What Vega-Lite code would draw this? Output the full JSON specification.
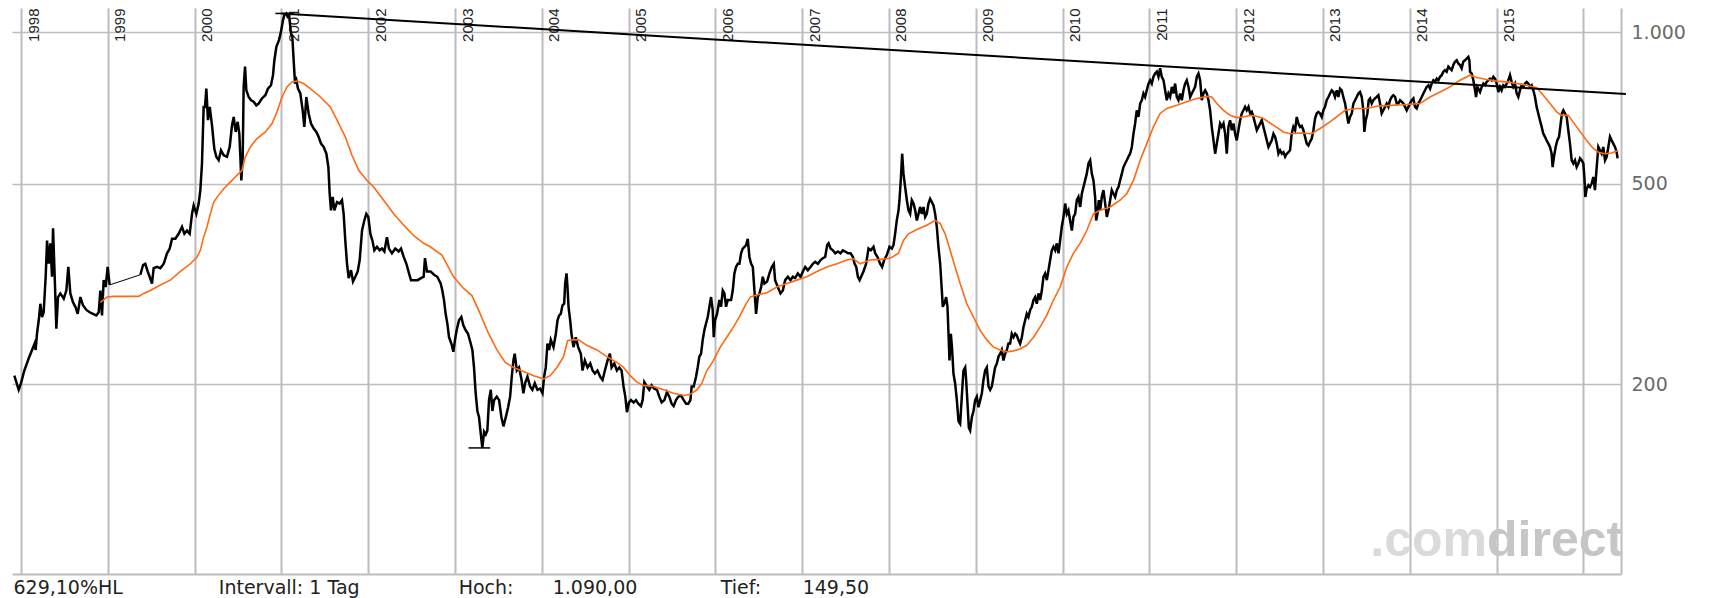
{
 "$schema": "https://vega.github.io/schema/vega-lite/v6.json",
 "width": 1609,
 "height": 566,
 "autosize": {"type": "none"},
 "padding": {"left": 12, "top": 8, "right": 100, "bottom": 24},
 "background": "white",
 "config": {"view": {"stroke": null}},
 "datasets": {
  "price": [
   {"t":1997.923,"v":208},{"t":1997.973,"v":195},{"t":1998.000,"v":201},{"t":1998.038,"v":213},{"t":1998.088,"v":225},{"t":1998.127,"v":234},{"t":1998.157,"v":241},{"t":1998.169,"v":234},{"t":1998.184,"v":252},{"t":1998.204,"v":268},{"t":1998.223,"v":289},{"t":1998.242,"v":272},{"t":1998.261,"v":278},{"t":1998.284,"v":327},{"t":1998.300,"v":386},{"t":1998.319,"v":347},{"t":1998.338,"v":381},{"t":1998.357,"v":327},{"t":1998.369,"v":408},{"t":1998.388,"v":327},{"t":1998.407,"v":258},{"t":1998.426,"v":298},{"t":1998.453,"v":303},{"t":1998.492,"v":296},{"t":1998.522,"v":307},{"t":1998.545,"v":342},{"t":1998.568,"v":303},{"t":1998.599,"v":291},{"t":1998.626,"v":285},{"t":1998.653,"v":276},{"t":1998.684,"v":298},{"t":1998.714,"v":287},{"t":1998.753,"v":281},{"t":1998.791,"v":278},{"t":1998.829,"v":276},{"t":1998.868,"v":274},{"t":1998.895,"v":278},{"t":1998.914,"v":307},{"t":1998.933,"v":274},{"t":1998.952,"v":322},{"t":1998.975,"v":312},{"t":1998.998,"v":342},{"t":1999.021,"v":315},
   {"t":1999.375,"v":330},{"t":1999.406,"v":345},{"t":1999.432,"v":347},{"t":1999.459,"v":335},{"t":1999.482,"v":327},{"t":1999.509,"v":317},{"t":1999.528,"v":340},{"t":1999.567,"v":342},{"t":1999.605,"v":340},{"t":1999.644,"v":347},{"t":1999.682,"v":364},{"t":1999.713,"v":372},{"t":1999.740,"v":389},{"t":1999.778,"v":389},{"t":1999.816,"v":398},{"t":1999.855,"v":411},{"t":1999.882,"v":398},{"t":1999.912,"v":404},{"t":1999.943,"v":398},{"t":1999.970,"v":436},{"t":1999.989,"v":453},{"t":2000.020,"v":436},{"t":2000.047,"v":457},{"t":2000.066,"v":486},{"t":2000.085,"v":549},{"t":2000.104,"v":711},{"t":2000.120,"v":711},{"t":2000.135,"v":773},{"t":2000.154,"v":669},{"t":2000.174,"v":711},{"t":2000.200,"v":654},{"t":2000.227,"v":587},{"t":2000.250,"v":566},{"t":2000.277,"v":557},{"t":2000.304,"v":583},{"t":2000.335,"v":570},{"t":2000.373,"v":566},{"t":2000.404,"v":592},{"t":2000.431,"v":654},{"t":2000.450,"v":679},{"t":2000.473,"v":634},{"t":2000.496,"v":664},{"t":2000.515,"v":629},{"t":2000.527,"v":566},{"t":2000.538,"v":508},{"t":2000.554,"v":566},{"t":2000.565,"v":779},{"t":2000.581,"v":855},{"t":2000.596,"v":767},{"t":2000.623,"v":744},{"t":2000.650,"v":733},{"t":2000.680,"v":728},{"t":2000.711,"v":716},{"t":2000.738,"v":722},{"t":2000.776,"v":739},{"t":2000.815,"v":750},{"t":2000.845,"v":773},{"t":2000.880,"v":785},{"t":2000.903,"v":822},{"t":2000.919,"v":880},{"t":2000.942,"v":936},{"t":2000.972,"v":965},{"t":2000.995,"v":1003},{"t":2001.018,"v":1057},{"t":2001.034,"v":1082},{"t":2001.057,"v":1090},{"t":2001.072,"v":1074},{"t":2001.088,"v":1082},{"t":2001.111,"v":995},{"t":2001.126,"v":980},{"t":2001.141,"v":880},{"t":2001.157,"v":791},{"t":2001.172,"v":803},{"t":2001.191,"v":773},{"t":2001.218,"v":756},{"t":2001.245,"v":700},{"t":2001.264,"v":649},{"t":2001.287,"v":744},{"t":2001.314,"v":690},{"t":2001.341,"v":659},{"t":2001.372,"v":644},{"t":2001.402,"v":634},{"t":2001.429,"v":620},{"t":2001.456,"v":601},{"t":2001.487,"v":592},{"t":2001.518,"v":574},{"t":2001.541,"v":540},{"t":2001.556,"v":478},{"t":2001.571,"v":443},{"t":2001.591,"v":471},{"t":2001.610,"v":443},{"t":2001.641,"v":460},{"t":2001.671,"v":457},{"t":2001.698,"v":464},{"t":2001.717,"v":436},{"t":2001.736,"v":386},{"t":2001.756,"v":347},{"t":2001.775,"v":325},{"t":2001.802,"v":337},{"t":2001.825,"v":320},{"t":2001.852,"v":327},{"t":2001.879,"v":335},{"t":2001.902,"v":353},{"t":2001.929,"v":404},{"t":2001.955,"v":423},{"t":2001.978,"v":436},{"t":2002.001,"v":430},{"t":2002.025,"v":398},{"t":2002.048,"v":386},{"t":2002.071,"v":369},{"t":2002.101,"v":375},{"t":2002.132,"v":369},{"t":2002.159,"v":372},{"t":2002.186,"v":367},{"t":2002.216,"v":392},{"t":2002.239,"v":372},{"t":2002.274,"v":364},{"t":2002.312,"v":372},{"t":2002.351,"v":367},{"t":2002.378,"v":372},{"t":2002.409,"v":358},{"t":2002.440,"v":347},{"t":2002.470,"v":332},{"t":2002.493,"v":322},{"t":2002.532,"v":322},{"t":2002.570,"v":322},{"t":2002.608,"v":325},{"t":2002.639,"v":327},{"t":2002.654,"v":356},{"t":2002.677,"v":335},
   {"t":2002.719,"v":335},{"t":2002.758,"v":330},{"t":2002.796,"v":327},{"t":2002.835,"v":317},{"t":2002.854,"v":307},{"t":2002.873,"v":294},{"t":2002.892,"v":276},{"t":2002.912,"v":264},{"t":2002.931,"v":248},{"t":2002.958,"v":241},{"t":2002.981,"v":232},{"t":2003.000,"v":245},{"t":2003.019,"v":256},{"t":2003.046,"v":268},{"t":2003.073,"v":272},{"t":2003.096,"v":262},{"t":2003.123,"v":256},{"t":2003.150,"v":252},{"t":2003.181,"v":241},{"t":2003.200,"v":234},{"t":2003.219,"v":216},{"t":2003.238,"v":192},{"t":2003.258,"v":177},{"t":2003.277,"v":172},{"t":2003.296,"v":160},{"t":2003.315,"v":149.5},{"t":2003.335,"v":161},{"t":2003.354,"v":159},{"t":2003.373,"v":162},{"t":2003.392,"v":186},{"t":2003.412,"v":195},{"t":2003.431,"v":177},{"t":2003.450,"v":186},{"t":2003.481,"v":189},{"t":2003.508,"v":186},{"t":2003.535,"v":172},{"t":2003.558,"v":165},{"t":2003.585,"v":172},{"t":2003.612,"v":180},{"t":2003.635,"v":189},{"t":2003.654,"v":207},{"t":2003.673,"v":223},{"t":2003.688,"v":230},{"t":2003.712,"v":213},{"t":2003.738,"v":216},{"t":2003.765,"v":205},{"t":2003.788,"v":192},{"t":2003.808,"v":201},{"t":2003.835,"v":207},{"t":2003.865,"v":198},{"t":2003.892,"v":195},{"t":2003.919,"v":201},{"t":2003.950,"v":195},{"t":2003.981,"v":196},{"t":2004.008,"v":192},{"t":2004.027,"v":207},{"t":2004.046,"v":216},{"t":2004.065,"v":241},{"t":2004.085,"v":234},{"t":2004.104,"v":245},{"t":2004.135,"v":237},{"t":2004.162,"v":252},{"t":2004.181,"v":268},{"t":2004.200,"v":274},{"t":2004.219,"v":276},{"t":2004.238,"v":287},{"t":2004.258,"v":289},{"t":2004.269,"v":317},{"t":2004.285,"v":332},{"t":2004.296,"v":312},{"t":2004.308,"v":285},{"t":2004.327,"v":268},{"t":2004.342,"v":252},{"t":2004.365,"v":237},{"t":2004.392,"v":248},{"t":2004.419,"v":237},{"t":2004.450,"v":230},{"t":2004.469,"v":213},{"t":2004.496,"v":223},{"t":2004.527,"v":216},{"t":2004.558,"v":220},{"t":2004.585,"v":213},{"t":2004.612,"v":210},{"t":2004.642,"v":213},{"t":2004.673,"v":207},{"t":2004.700,"v":204},{"t":2004.727,"v":213},{"t":2004.758,"v":223},{"t":2004.785,"v":230},{"t":2004.804,"v":216},{"t":2004.835,"v":220},{"t":2004.865,"v":213},{"t":2004.892,"v":216},{"t":2004.919,"v":213},{"t":2004.942,"v":198},{"t":2004.962,"v":189},{"t":2004.981,"v":176},{"t":2005.004,"v":184},{"t":2005.027,"v":186},{"t":2005.058,"v":184},{"t":2005.085,"v":186},{"t":2005.112,"v":183},{"t":2005.142,"v":181},{"t":2005.162,"v":186},{"t":2005.181,"v":202},{"t":2005.212,"v":198},{"t":2005.238,"v":195},{"t":2005.265,"v":199},{"t":2005.296,"v":196},{"t":2005.327,"v":195},{"t":2005.354,"v":189},{"t":2005.381,"v":184},{"t":2005.412,"v":186},{"t":2005.442,"v":193},{"t":2005.469,"v":189},{"t":2005.496,"v":183},{"t":2005.519,"v":181},{"t":2005.546,"v":186},{"t":2005.573,"v":189},{"t":2005.604,"v":190},{"t":2005.635,"v":186},{"t":2005.662,"v":183},{"t":2005.688,"v":183},{"t":2005.712,"v":186},{"t":2005.727,"v":198},{"t":2005.750,"v":198},{"t":2005.777,"v":207},{"t":2005.796,"v":216},{"t":2005.815,"v":227},{"t":2005.835,"v":230},{"t":2005.854,"v":245},{"t":2005.873,"v":256},{"t":2005.892,"v":264},{"t":2005.912,"v":272},{"t":2005.931,"v":285},{"t":2005.950,"v":298},{"t":2005.969,"v":281},{"t":2005.981,"v":248},{"t":2005.996,"v":268},{"t":2006.019,"v":276},{"t":2006.046,"v":294},{"t":2006.065,"v":285},{"t":2006.085,"v":307},{"t":2006.104,"v":303},{"t":2006.123,"v":285},{"t":2006.142,"v":294},{"t":2006.162,"v":294},{"t":2006.181,"v":294},{"t":2006.200,"v":307},{"t":2006.219,"v":332},{"t":2006.238,"v":342},{"t":2006.258,"v":347},{"t":2006.277,"v":347},{"t":2006.296,"v":364},{"t":2006.315,"v":372},{"t":2006.335,"v":375},{"t":2006.354,"v":378},{"t":2006.373,"v":389},{"t":2006.392,"v":358},{"t":2006.412,"v":347},{"t":2006.431,"v":342},{"t":2006.450,"v":307},{"t":2006.469,"v":276},{"t":2006.488,"v":298},{"t":2006.508,"v":303},{"t":2006.527,"v":312},{"t":2006.546,"v":327},{"t":2006.565,"v":317},{"t":2006.596,"v":320},{"t":2006.623,"v":332},{"t":2006.650,"v":342},{"t":2006.673,"v":347},{"t":2006.688,"v":322},{"t":2006.719,"v":312},{"t":2006.750,"v":303},{"t":2006.777,"v":307},{"t":2006.804,"v":322},{"t":2006.835,"v":327},{"t":2006.865,"v":322},{"t":2006.892,"v":327},{"t":2006.919,"v":325},{"t":2006.950,"v":332},{"t":2006.981,"v":327},{"t":2007.008,"v":335},{"t":2007.035,"v":342},{"t":2007.065,"v":337},{"t":2007.096,"v":342},{"t":2007.123,"v":347},{"t":2007.150,"v":350},{"t":2007.181,"v":347},{"t":2007.212,"v":353},{"t":2007.238,"v":356},{"t":2007.265,"v":358},{"t":2007.288,"v":378},{"t":2007.304,"v":381},{"t":2007.327,"v":372},{"t":2007.354,"v":369},{"t":2007.381,"v":364},{"t":2007.412,"v":367},{"t":2007.442,"v":364},{"t":2007.469,"v":369},{"t":2007.496,"v":367},{"t":2007.527,"v":364},{"t":2007.558,"v":364},{"t":2007.585,"v":358},{"t":2007.604,"v":347},{"t":2007.623,"v":342},{"t":2007.642,"v":327},{"t":2007.662,"v":322},
   {"t":2007.706,"v":335},{"t":2007.737,"v":347},{"t":2007.764,"v":372},{"t":2007.791,"v":369},{"t":2007.822,"v":375},{"t":2007.841,"v":364},{"t":2007.868,"v":358},{"t":2007.898,"v":347},{"t":2007.921,"v":342},{"t":2007.945,"v":353},{"t":2007.975,"v":361},{"t":2008.006,"v":375},{"t":2008.033,"v":372},{"t":2008.052,"v":378},{"t":2008.071,"v":398},{"t":2008.090,"v":423},{"t":2008.110,"v":443},{"t":2008.121,"v":464},{"t":2008.136,"v":508},{"t":2008.152,"v":574},{"t":2008.167,"v":524},{"t":2008.186,"v":493},{"t":2008.206,"v":464},{"t":2008.225,"v":443},{"t":2008.244,"v":436},{"t":2008.263,"v":464},{"t":2008.283,"v":457},{"t":2008.302,"v":443},{"t":2008.321,"v":423},{"t":2008.340,"v":436},{"t":2008.359,"v":450},{"t":2008.379,"v":436},{"t":2008.398,"v":450},{"t":2008.417,"v":430},{"t":2008.436,"v":436},{"t":2008.455,"v":457},{"t":2008.474,"v":467},{"t":2008.494,"v":460},{"t":2008.513,"v":453},{"t":2008.532,"v":436},{"t":2008.551,"v":411},{"t":2008.570,"v":375},{"t":2008.590,"v":347},{"t":2008.609,"v":307},{"t":2008.620,"v":285},{"t":2008.636,"v":289},{"t":2008.659,"v":298},{"t":2008.674,"v":285},{"t":2008.686,"v":252},{"t":2008.697,"v":223},{"t":2008.713,"v":252},{"t":2008.728,"v":234},{"t":2008.743,"v":210},{"t":2008.762,"v":201},{"t":2008.782,"v":186},{"t":2008.801,"v":169},{"t":2008.820,"v":167},{"t":2008.839,"v":189},{"t":2008.858,"v":213},{"t":2008.878,"v":216},{"t":2008.889,"v":204},{"t":2008.905,"v":183},{"t":2008.920,"v":164},{"t":2008.935,"v":162},{"t":2008.955,"v":172},{"t":2008.974,"v":177},{"t":2008.993,"v":186},{"t":2009.012,"v":189},{"t":2009.031,"v":180},{"t":2009.051,"v":186},{"t":2009.070,"v":192},{"t":2009.089,"v":204},{"t":2009.108,"v":213},{"t":2009.127,"v":216},{"t":2009.147,"v":198},{"t":2009.166,"v":195},{"t":2009.185,"v":198},{"t":2009.204,"v":207},{"t":2009.223,"v":216},{"t":2009.243,"v":220},{"t":2009.262,"v":227},{"t":2009.281,"v":230},{"t":2009.300,"v":234},{"t":2009.319,"v":223},{"t":2009.339,"v":230},{"t":2009.358,"v":234},{"t":2009.377,"v":241},{"t":2009.396,"v":241},{"t":2009.415,"v":252},{"t":2009.435,"v":248},{"t":2009.454,"v":252},{"t":2009.473,"v":250},{"t":2009.492,"v":245},{"t":2009.511,"v":241},{"t":2009.531,"v":248},{"t":2009.550,"v":260},{"t":2009.569,"v":268},{"t":2009.588,"v":276},{"t":2009.607,"v":272},{"t":2009.627,"v":281},{"t":2009.646,"v":285},{"t":2009.665,"v":294},{"t":2009.684,"v":298},{"t":2009.703,"v":289},{"t":2009.723,"v":303},{"t":2009.742,"v":294},{"t":2009.761,"v":307},{"t":2009.780,"v":327},{"t":2009.799,"v":332},{"t":2009.819,"v":322},{"t":2009.838,"v":337},{"t":2009.857,"v":353},{"t":2009.876,"v":369},{"t":2009.895,"v":375},{"t":2009.915,"v":369},{"t":2009.934,"v":381},{"t":2009.953,"v":364},{"t":2009.972,"v":386},{"t":2009.991,"v":411},{"t":2010.011,"v":430},{"t":2010.030,"v":457},{"t":2010.049,"v":436},{"t":2010.068,"v":443},{"t":2010.087,"v":423},{"t":2010.107,"v":404},{"t":2010.126,"v":430},{"t":2010.145,"v":436},{"t":2010.164,"v":464},{"t":2010.183,"v":471},{"t":2010.203,"v":450},{"t":2010.222,"v":478},{"t":2010.241,"v":493},{"t":2010.260,"v":508},{"t":2010.279,"v":524},{"t":2010.299,"v":549},{"t":2010.318,"v":557},{"t":2010.337,"v":524},{"t":2010.356,"v":508},{"t":2010.375,"v":471},{"t":2010.387,"v":423},{"t":2010.402,"v":436},{"t":2010.418,"v":464},{"t":2010.433,"v":443},{"t":2010.452,"v":471},{"t":2010.471,"v":486},{"t":2010.491,"v":457},{"t":2010.510,"v":430},{"t":2010.529,"v":443},{"t":2010.548,"v":464},{"t":2010.567,"v":486},{"t":2010.587,"v":478},{"t":2010.606,"v":471},{"t":2010.625,"v":486},{"t":2010.644,"v":493},{"t":2010.663,"v":508},{"t":2010.683,"v":524},{"t":2010.702,"v":540},{"t":2010.721,"v":549},{"t":2010.740,"v":557},{"t":2010.759,"v":566},{"t":2010.778,"v":574},{"t":2010.798,"v":592},{"t":2010.817,"v":629},{"t":2010.836,"v":659},{"t":2010.855,"v":700},{"t":2010.875,"v":679},{"t":2010.894,"v":722},{"t":2010.913,"v":733},{"t":2010.932,"v":756},{"t":2010.951,"v":744},{"t":2010.970,"v":767},{"t":2010.990,"v":791},{"t":2011.009,"v":803},{"t":2011.028,"v":791},{"t":2011.047,"v":816},{"t":2011.066,"v":828},{"t":2011.086,"v":835},{"t":2011.105,"v":816},{"t":2011.124,"v":848},{"t":2011.143,"v":816},{"t":2011.163,"v":803},{"t":2011.182,"v":767},{"t":2011.201,"v":733},{"t":2011.220,"v":756},{"t":2011.239,"v":744},{"t":2011.259,"v":779},{"t":2011.278,"v":756},{"t":2011.297,"v":791},{"t":2011.316,"v":744},{"t":2011.335,"v":733},{"t":2011.355,"v":756},{"t":2011.374,"v":733},{"t":2011.393,"v":767},{"t":2011.412,"v":791},{"t":2011.431,"v":803},{"t":2011.451,"v":779},{"t":2011.470,"v":744},{"t":2011.489,"v":756},{"t":2011.508,"v":767},{"t":2011.527,"v":779},{"t":2011.547,"v":816},{"t":2011.566,"v":828},{"t":2011.585,"v":803},{"t":2011.604,"v":733},{"t":2011.623,"v":756},{"t":2011.643,"v":767},{"t":2011.662,"v":756},{"t":2011.681,"v":733},{"t":2011.700,"v":700},{"t":2011.719,"v":649},{"t":2011.739,"v":610},{"t":2011.758,"v":574},{"t":2011.777,"v":601},{"t":2011.796,"v":629},{"t":2011.815,"v":659},{"t":2011.834,"v":649},{"t":2011.854,"v":659},{"t":2011.873,"v":629},{"t":2011.892,"v":574},{"t":2011.911,"v":649},{"t":2011.930,"v":669},{"t":2011.950,"v":639},{"t":2011.969,"v":659},{"t":2011.988,"v":629},{"t":2012.007,"v":610},{"t":2012.026,"v":639},{"t":2012.046,"v":669},{"t":2012.065,"v":690},{"t":2012.084,"v":700},{"t":2012.103,"v":711},{"t":2012.122,"v":700},{"t":2012.142,"v":711},{"t":2012.161,"v":690},{"t":2012.180,"v":695},{"t":2012.199,"v":679},{"t":2012.218,"v":659},{"t":2012.238,"v":639},{"t":2012.257,"v":649},{"t":2012.276,"v":659},{"t":2012.295,"v":669},{"t":2012.314,"v":649},{"t":2012.334,"v":629},{"t":2012.353,"v":610},{"t":2012.372,"v":592},{"t":2012.391,"v":601},{"t":2012.410,"v":610},{"t":2012.430,"v":629},{"t":2012.449,"v":620},{"t":2012.468,"v":601},{"t":2012.487,"v":574},{"t":2012.506,"v":583},{"t":2012.526,"v":574},{"t":2012.545,"v":578},{"t":2012.564,"v":566},{"t":2012.583,"v":574},{"t":2012.603,"v":578},
   {"t":2012.621,"v":583},{"t":2012.640,"v":629},{"t":2012.659,"v":649},{"t":2012.679,"v":639},{"t":2012.698,"v":679},{"t":2012.717,"v":659},{"t":2012.736,"v":649},{"t":2012.755,"v":652},{"t":2012.775,"v":639},{"t":2012.794,"v":620},{"t":2012.813,"v":601},{"t":2012.832,"v":596},{"t":2012.851,"v":606},{"t":2012.871,"v":615},{"t":2012.890,"v":639},{"t":2012.909,"v":674},{"t":2012.928,"v":690},{"t":2012.947,"v":695},{"t":2012.967,"v":690},{"t":2012.986,"v":679},{"t":2013.005,"v":700},{"t":2013.024,"v":711},{"t":2013.043,"v":733},{"t":2013.063,"v":744},{"t":2013.082,"v":756},{"t":2013.101,"v":767},{"t":2013.120,"v":761},{"t":2013.139,"v":744},{"t":2013.159,"v":767},{"t":2013.178,"v":744},{"t":2013.197,"v":773},{"t":2013.216,"v":767},{"t":2013.235,"v":744},{"t":2013.255,"v":722},{"t":2013.274,"v":690},{"t":2013.293,"v":659},{"t":2013.312,"v":679},{"t":2013.332,"v":690},{"t":2013.351,"v":722},{"t":2013.370,"v":733},{"t":2013.389,"v":744},{"t":2013.408,"v":756},{"t":2013.427,"v":761},{"t":2013.447,"v":744},{"t":2013.466,"v":700},{"t":2013.477,"v":634},{"t":2013.493,"v":669},{"t":2013.512,"v":690},{"t":2013.527,"v":733},{"t":2013.543,"v":739},{"t":2013.562,"v":722},{"t":2013.581,"v":733},{"t":2013.600,"v":739},{"t":2013.619,"v":744},{"t":2013.639,"v":750},{"t":2013.658,"v":722},{"t":2013.677,"v":690},{"t":2013.696,"v":700},{"t":2013.715,"v":711},{"t":2013.735,"v":722},{"t":2013.754,"v":711},{"t":2013.773,"v":733},{"t":2013.792,"v":744},{"t":2013.811,"v":750},{"t":2013.831,"v":744},{"t":2013.850,"v":722},{"t":2013.869,"v":722},{"t":2013.888,"v":733},{"t":2013.907,"v":728},{"t":2013.927,"v":722},{"t":2013.946,"v":711},{"t":2013.965,"v":700},{"t":2013.984,"v":711},{"t":2014.003,"v":722},{"t":2014.023,"v":733},{"t":2014.042,"v":739},{"t":2014.061,"v":711},{"t":2014.080,"v":706},{"t":2014.099,"v":722},{"t":2014.119,"v":733},{"t":2014.138,"v":744},{"t":2014.157,"v":756},{"t":2014.176,"v":767},{"t":2014.195,"v":779},{"t":2014.215,"v":785},{"t":2014.234,"v":773},{"t":2014.253,"v":791},{"t":2014.272,"v":803},{"t":2014.291,"v":797},{"t":2014.311,"v":809},{"t":2014.330,"v":803},{"t":2014.349,"v":816},{"t":2014.368,"v":822},{"t":2014.387,"v":835},{"t":2014.406,"v":841},{"t":2014.425,"v":835},{"t":2014.445,"v":855},{"t":2014.464,"v":848},{"t":2014.483,"v":841},{"t":2014.502,"v":861},{"t":2014.521,"v":874},{"t":2014.541,"v":880},{"t":2014.560,"v":867},{"t":2014.579,"v":861},{"t":2014.598,"v":848},{"t":2014.617,"v":874},{"t":2014.637,"v":880},{"t":2014.656,"v":887},{"t":2014.675,"v":894},{"t":2014.687,"v":880},{"t":2014.695,"v":835},{"t":2014.714,"v":828},{"t":2014.733,"v":803},{"t":2014.752,"v":767},{"t":2014.764,"v":744},{"t":2014.779,"v":779},{"t":2014.790,"v":773},{"t":2014.810,"v":761},{"t":2014.829,"v":779},{"t":2014.848,"v":791},{"t":2014.867,"v":785},{"t":2014.886,"v":797},{"t":2014.906,"v":803},{"t":2014.925,"v":809},{"t":2014.944,"v":803},{"t":2014.963,"v":816},{"t":2014.982,"v":809},{"t":2015.002,"v":791},{"t":2015.021,"v":761},{"t":2015.040,"v":779},{"t":2015.059,"v":767},{"t":2015.078,"v":785},{"t":2015.097,"v":779},{"t":2015.117,"v":791},{"t":2015.136,"v":803},{"t":2015.155,"v":822},{"t":2015.174,"v":797},{"t":2015.193,"v":779},{"t":2015.213,"v":791},{"t":2015.232,"v":756},{"t":2015.251,"v":744},{"t":2015.270,"v":767},{"t":2015.289,"v":785},{"t":2015.309,"v":779},{"t":2015.328,"v":791},{"t":2015.347,"v":797},{"t":2015.366,"v":791},{"t":2015.385,"v":779},{"t":2015.405,"v":785},{"t":2015.424,"v":767},{"t":2015.443,"v":744},{"t":2015.462,"v":711},{"t":2015.481,"v":690},{"t":2015.500,"v":669},{"t":2015.520,"v":649},{"t":2015.539,"v":629},{"t":2015.558,"v":620},{"t":2015.577,"v":610},{"t":2015.597,"v":601},{"t":2015.616,"v":592},{"t":2015.635,"v":574},{"t":2015.646,"v":540},{"t":2015.662,"v":566},{"t":2015.681,"v":592},{"t":2015.700,"v":610},{"t":2015.720,"v":620},{"t":2015.739,"v":659},{"t":2015.754,"v":690},{"t":2015.770,"v":700},{"t":2015.789,"v":690},{"t":2015.808,"v":679},{"t":2015.827,"v":639},{"t":2015.846,"v":601},{"t":2015.866,"v":557},{"t":2015.885,"v":549},{"t":2015.904,"v":557},{"t":2015.923,"v":540},{"t":2015.942,"v":549},{"t":2015.962,"v":562},{"t":2015.981,"v":557},{"t":2016.000,"v":549},{"t":2016.012,"v":516},{"t":2016.023,"v":471},{"t":2016.038,"v":489},{"t":2016.058,"v":497},{"t":2016.077,"v":493},{"t":2016.096,"v":501},{"t":2016.115,"v":516},{"t":2016.134,"v":486},{"t":2016.154,"v":540},{"t":2016.173,"v":592},{"t":2016.192,"v":583},{"t":2016.211,"v":574},{"t":2016.230,"v":592},{"t":2016.250,"v":557},{"t":2016.269,"v":566},{"t":2016.288,"v":592},{"t":2016.307,"v":620},{"t":2016.326,"v":610},{"t":2016.345,"v":601},{"t":2016.365,"v":592},{"t":2016.384,"v":578},{"t":2016.395,"v":562}
  ],
  "ma": [
   {"t":1998.914,"v":291},{"t":1998.991,"v":298},{"t":1999.068,"v":299},{"t":1999.221,"v":299},{"t":1999.356,"v":299},{"t":1999.413,"v":303},{"t":1999.490,"v":307},{"t":1999.605,"v":315},{"t":1999.720,"v":322},{"t":1999.836,"v":335},{"t":1999.951,"v":347},{"t":2000.028,"v":358},{"t":2000.066,"v":369},{"t":2000.104,"v":392},{"t":2000.143,"v":411},{"t":2000.181,"v":436},{"t":2000.220,"v":460},{"t":2000.277,"v":475},{"t":2000.335,"v":489},{"t":2000.412,"v":504},{"t":2000.488,"v":520},{"t":2000.546,"v":532},{"t":2000.584,"v":566},{"t":2000.642,"v":592},{"t":2000.719,"v":615},{"t":2000.815,"v":634},{"t":2000.892,"v":659},{"t":2000.949,"v":695},{"t":2001.007,"v":744},{"t":2001.064,"v":779},{"t":2001.122,"v":797},{"t":2001.180,"v":800},{"t":2001.256,"v":791},{"t":2001.333,"v":773},{"t":2001.449,"v":744},{"t":2001.564,"v":711},{"t":2001.641,"v":669},{"t":2001.736,"v":620},{"t":2001.813,"v":570},{"t":2001.890,"v":532},{"t":2001.986,"v":508},{"t":2002.063,"v":493},{"t":2002.178,"v":464},{"t":2002.293,"v":436},{"t":2002.409,"v":414},{"t":2002.522,"v":395},{"t":2002.639,"v":381},
   {"t":2002.715,"v":375},{"t":2002.849,"v":361},{"t":2002.984,"v":327},{"t":2003.099,"v":310},{"t":2003.195,"v":300},{"t":2003.291,"v":276},{"t":2003.387,"v":252},{"t":2003.483,"v":234},{"t":2003.579,"v":221},{"t":2003.675,"v":216},{"t":2003.790,"v":212},{"t":2003.905,"v":208},{"t":2004.021,"v":205},{"t":2004.097,"v":208},{"t":2004.174,"v":216},{"t":2004.251,"v":227},{"t":2004.297,"v":244},{"t":2004.347,"v":245},{"t":2004.424,"v":245},{"t":2004.520,"v":239},{"t":2004.635,"v":234},{"t":2004.750,"v":227},{"t":2004.866,"v":221},{"t":2004.942,"v":216},{"t":2005.019,"v":208},{"t":2005.096,"v":202},{"t":2005.172,"v":199},{"t":2005.288,"v":198},{"t":2005.403,"v":195},{"t":2005.518,"v":192},{"t":2005.633,"v":190},{"t":2005.710,"v":191},{"t":2005.787,"v":195},{"t":2005.844,"v":201},{"t":2005.902,"v":213},{"t":2005.979,"v":223},{"t":2006.056,"v":237},{"t":2006.132,"v":248},{"t":2006.209,"v":260},{"t":2006.286,"v":274},{"t":2006.344,"v":287},{"t":2006.401,"v":298},{"t":2006.478,"v":301},{"t":2006.593,"v":304},{"t":2006.708,"v":312},{"t":2006.824,"v":317},{"t":2006.939,"v":322},{"t":2007.054,"v":327},{"t":2007.169,"v":335},{"t":2007.285,"v":342},{"t":2007.400,"v":347},{"t":2007.515,"v":353},{"t":2007.591,"v":355},{"t":2007.668,"v":347},
   {"t":2007.783,"v":353},{"t":2007.898,"v":354},{"t":2008.014,"v":356},{"t":2008.110,"v":364},{"t":2008.167,"v":386},{"t":2008.225,"v":398},{"t":2008.321,"v":406},{"t":2008.436,"v":414},{"t":2008.532,"v":423},{"t":2008.590,"v":417},{"t":2008.647,"v":398},{"t":2008.705,"v":369},{"t":2008.762,"v":342},{"t":2008.820,"v":317},{"t":2008.897,"v":289},{"t":2008.974,"v":272},{"t":2009.050,"v":256},{"t":2009.127,"v":245},{"t":2009.204,"v":237},{"t":2009.281,"v":234},{"t":2009.358,"v":232},{"t":2009.434,"v":233},{"t":2009.511,"v":235},{"t":2009.588,"v":239},{"t":2009.665,"v":248},{"t":2009.742,"v":260},{"t":2009.818,"v":274},{"t":2009.895,"v":294},{"t":2009.972,"v":312},{"t":2010.049,"v":342},{"t":2010.125,"v":364},{"t":2010.202,"v":381},{"t":2010.279,"v":404},{"t":2010.356,"v":436},{"t":2010.433,"v":443},{"t":2010.548,"v":450},{"t":2010.663,"v":464},{"t":2010.740,"v":478},{"t":2010.817,"v":508},{"t":2010.894,"v":557},{"t":2010.970,"v":601},{"t":2011.047,"v":649},{"t":2011.124,"v":690},{"t":2011.201,"v":706},{"t":2011.316,"v":716},{"t":2011.431,"v":728},{"t":2011.546,"v":739},{"t":2011.662,"v":746},{"t":2011.719,"v":744},{"t":2011.777,"v":722},{"t":2011.854,"v":700},{"t":2011.930,"v":684},{"t":2012.007,"v":677},{"t":2012.084,"v":679},{"t":2012.161,"v":684},{"t":2012.237,"v":681},{"t":2012.314,"v":674},{"t":2012.429,"v":654},{"t":2012.545,"v":634},
   {"t":2012.621,"v":629},{"t":2012.736,"v":631},{"t":2012.871,"v":629},{"t":2012.967,"v":644},{"t":2013.082,"v":664},{"t":2013.255,"v":700},{"t":2013.389,"v":706},{"t":2013.504,"v":706},{"t":2013.619,"v":713},{"t":2013.773,"v":716},{"t":2013.927,"v":718},{"t":2014.119,"v":722},{"t":2014.234,"v":744},{"t":2014.349,"v":761},{"t":2014.464,"v":779},{"t":2014.579,"v":803},{"t":2014.695,"v":822},{"t":2014.771,"v":813},{"t":2014.886,"v":806},{"t":2015.002,"v":800},{"t":2015.117,"v":797},{"t":2015.232,"v":791},{"t":2015.347,"v":785},{"t":2015.462,"v":776},{"t":2015.539,"v":750},{"t":2015.616,"v":722},{"t":2015.693,"v":695},{"t":2015.750,"v":684},{"t":2015.827,"v":684},{"t":2015.923,"v":649},{"t":2016.038,"v":610},{"t":2016.115,"v":588},{"t":2016.173,"v":578},{"t":2016.250,"v":574},{"t":2016.326,"v":576},{"t":2016.403,"v":583}
  ]
 },
 "layer": [
  {
   "data": {"name": "price"},
   "transform": [{"filter": "datum.t < 1999.2"}],
   "mark": {"type": "line", "color": "#000000", "strokeWidth": 2.5},
   "encoding": {
    "x": {"field": "t", "type": "quantitative",
     "scale": {"domain": [1997.896, 2016.434], "nice": false, "zero": false},
     "axis": {"orient": "top", "title": null, "values": [1998,1999,2000,2001,2002,2003,2004,2005,2006,2007,2008,2009,2010,2011,2012,2013,2014,2015,2016],
      "format": "d", "labelExpr": "datum.value >= 2016 ? '' : datum.label",
      "grid": true, "gridColor": "#bcbcc2", "gridWidth": 2, "domain": false, "ticks": false, "tickSize": 0,
      "labelAngle": 270, "labelAlign": "right", "labelBaseline": "top", "labelPadding": 0, "labelOffset": 5,
      "labelFont": "Liberation Sans", "labelFontSize": 15, "labelColor": "#222222",
      "labelOverlap": false, "labelFlush": false, "labelBound": false}},
    "y": {"field": "v", "type": "quantitative",
     "scale": {"type": "log", "domain": [84, 1117.5], "nice": false},
     "axis": {"orient": "right", "title": null, "values": [200, 500, 1000],
      "labelExpr": "datum.value == 1000 ? '1.000' : datum.value == 500 ? '500' : '200'",
      "grid": true, "gridColor": "#bcbcc2", "gridWidth": 1.5, "domain": true, "domainColor": "#bcbcc2", "domainWidth": 2,
      "ticks": false, "tickSize": 0, "labelPadding": 10, "labelFont": "DejaVu Sans", "labelFontSize": 19, "labelColor": "#6a6a6a",
      "labelFlush": false, "labelOverlap": false, "labelBaseline": "middle"}}
   }
  },
  {
   "data": {"name": "price"},
   "transform": [{"filter": "datum.t > 1999.2"}],
   "mark": {"type": "line", "color": "#000000", "strokeWidth": 2.5},
   "encoding": {
    "x": {"field": "t", "type": "quantitative", "scale": {"domain": [1997.896, 2016.434], "nice": false, "zero": false}, "axis": null},
    "y": {"field": "v", "type": "quantitative", "scale": {"type": "log", "domain": [84, 1117.5], "nice": false}}
   }
  },
  {
   "data": {"name": "price"},
   "transform": [{"filter": "datum.t > 1999.0 && datum.t < 1999.4"}],
   "mark": {"type": "line", "color": "#000000", "strokeWidth": 1},
   "encoding": {
    "x": {"field": "t", "type": "quantitative", "scale": {"domain": [1997.896, 2016.434], "nice": false, "zero": false}, "axis": null},
    "y": {"field": "v", "type": "quantitative", "scale": {"type": "log", "domain": [84, 1117.5], "nice": false}}
   }
  },
  {
   "data": {"name": "ma"},
   "mark": {"type": "line", "color": "#ff6a10", "strokeWidth": 1.6},
   "encoding": {
    "x": {"field": "t", "type": "quantitative", "scale": {"domain": [1997.896, 2016.434], "nice": false, "zero": false},
     "axis": {"orient": "bottom", "title": null, "values": [1997.907, 2000.273, 2003.037, 2004.12, 2006.056, 2007.0],
      "labelExpr": "datum.value < 1999 ? '629,10%HL' : datum.value < 2001 ? 'Intervall: 1 Tag' : datum.value < 2004 ? 'Hoch:' : datum.value < 2005 ? '1.090,00' : datum.value < 2006.5 ? 'Tief:' : '149,50'",
      "grid": false, "domain": true, "domainColor": "#bcbcc2", "domainWidth": 2, "ticks": false, "tickSize": 0,
      "labelAngle": 0, "labelAlign": "left", "labelBaseline": "alphabetic", "labelPadding": 19,
      "labelFont": "DejaVu Sans", "labelFontSize": 19, "labelColor": "#222222",
      "labelOverlap": false, "labelFlush": false, "labelBound": false}},
    "y": {"field": "v", "type": "quantitative", "scale": {"type": "log", "domain": [84, 1117.5], "nice": false}}
   }
  },
  {
   "data": {"values": [{"t": 2001.0, "v": 1090}, {"t": 2016.49, "v": 754}]},
   "mark": {"type": "line", "color": "#000000", "strokeWidth": 2},
   "encoding": {
    "x": {"field": "t", "type": "quantitative", "scale": {"domain": [1997.896, 2016.434], "nice": false, "zero": false}, "axis": null},
    "y": {"field": "v", "type": "quantitative", "scale": {"type": "log", "domain": [84, 1117.5], "nice": false}}
   }
  },
  {
   "data": {"values": [{"t": 2000.93, "t2": 2001.14, "v": 1090}, {"t": 2003.156, "t2": 2003.406, "v": 149.5}]},
   "mark": {"type": "rule", "color": "#000000", "strokeWidth": 1.5},
   "encoding": {
    "x": {"field": "t", "type": "quantitative", "scale": {"domain": [1997.896, 2016.434], "nice": false, "zero": false}, "axis": null},
    "x2": {"field": "t2"},
    "y": {"field": "v", "type": "quantitative", "scale": {"type": "log", "domain": [84, 1117.5], "nice": false}}
   }
  },
  {
   "data": {"values": [{"t": 2014.891, "v": 97.9, "label": ".com"}]},
   "mark": {"type": "text", "align": "right", "baseline": "middle", "font": "Liberation Sans", "fontWeight": "bold", "fontSize": 50, "color": "#dadada"},
   "encoding": {
    "x": {"field": "t", "type": "quantitative", "scale": {"domain": [1997.896, 2016.434], "nice": false, "zero": false}, "axis": null},
    "y": {"field": "v", "type": "quantitative", "scale": {"type": "log", "domain": [84, 1117.5], "nice": false}},
    "text": {"field": "label"}
   }
  },
  {
   "data": {"values": [{"t": 2014.891, "v": 97.9, "label": "direct"}]},
   "mark": {"type": "text", "align": "left", "baseline": "middle", "font": "Liberation Sans", "fontWeight": "bold", "fontSize": 50, "color": "#c6c6c6"},
   "encoding": {
    "x": {"field": "t", "type": "quantitative", "scale": {"domain": [1997.896, 2016.434], "nice": false, "zero": false}, "axis": null},
    "y": {"field": "v", "type": "quantitative", "scale": {"type": "log", "domain": [84, 1117.5], "nice": false}},
    "text": {"field": "label"}
   }
  }
 ],
 "resolve": {"axis": {"x": "independent"}}
}
